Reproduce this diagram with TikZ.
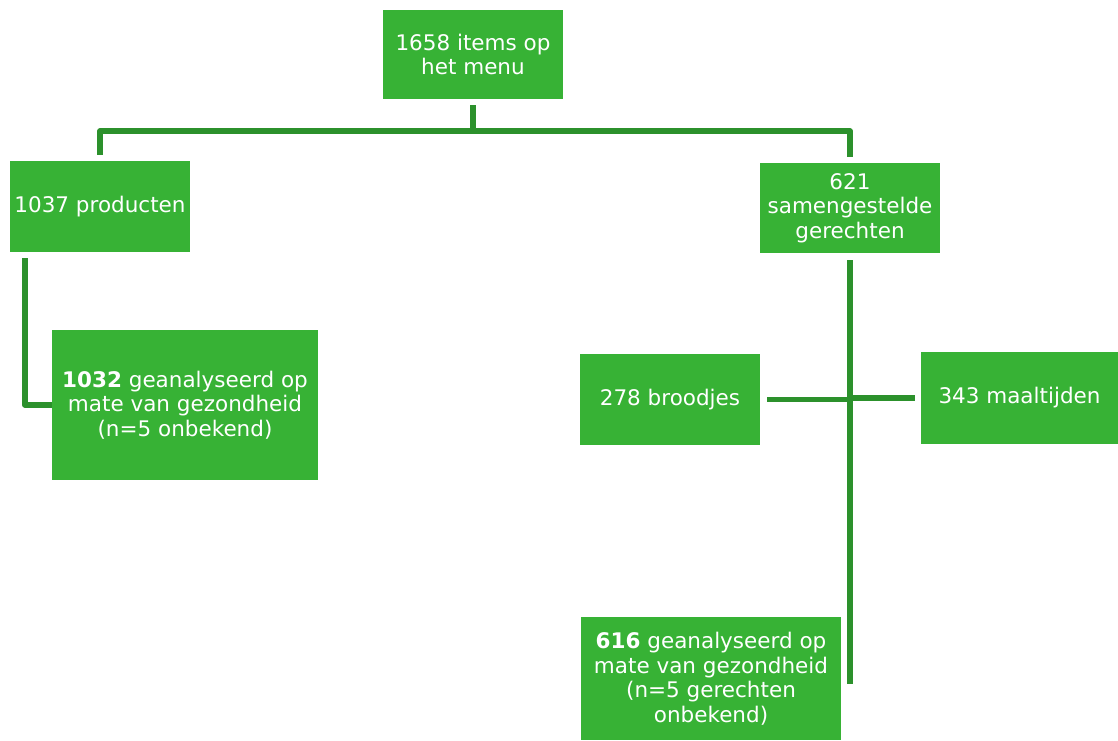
\documentclass[tikz,border=0pt]{standalone}
\usepackage{fontspec}
\setmainfont{DejaVu Sans}
\usepackage{tikz}
\usetikzlibrary{calc}
\usepackage{xcolor}
\definecolor{boxgreen}{RGB}{55,178,53}
\definecolor{linegreen}{RGB}{44,145,44}

\begin{document}
\begin{tikzpicture}[x=1pt,y=-1pt,
		box/.style={fill=boxgreen,text=white,align=center,inner sep=0pt,
			font=\fontsize{21.5}{24.5}\selectfont},
		conn/.style={linegreen,line width=5.5pt,line join=round}]
			
			% Canvas
			\useasboundingbox (0,0) rectangle (1118,740);
			
			% Boxes
			\node[box,minimum width=180pt,minimum height=89pt] (menu) at (473,54.5) {1658 items op\\het menu};
			\node[box,minimum width=180pt,minimum height=91pt] (prod) at (100,206.5) {1037 producten};
			\node[box,minimum width=180pt,minimum height=90pt] (samen) at (850,208) {621\\samengestelde\\gerechten};
			\node[box,minimum width=266pt,minimum height=150pt] (anaprod) at (185,405) {\textbf{1032} geanalyseerd op\\mate van gezondheid\\(n=5 onbekend)};
			\node[box,minimum width=180pt,minimum height=91pt] (brood) at (670,399.5) {278 broodjes};
			\node[box,minimum width=197pt,minimum height=92pt] (maal) at (1019.5,398) {343 maaltijden};
			\node[box,minimum width=260pt,minimum height=123pt] (anasamen) at (711,678.5) {\textbf{616} geanalyseerd op\\mate van gezondheid\\(n=5 gerechten\\onbekend)};
			
			% Split below the menu
			\coordinate (split) at (473,131);
			\draw[conn] ([yshift=-6pt]menu.south) -- (split) -| ([yshift=6pt]prod.north);
			\draw[conn] (split) -| ([yshift=6pt]samen.north);
			
			% Left branch
			\draw[conn] ([xshift=15pt,yshift=-6pt]prod.south west) |- (anaprod.west);
			
			% Right branch
			\coordinate (trunkend) at ($(samen.south |- anasamen.east)+(0,5)$);
			\draw[conn] ([yshift=-7pt]samen.south) -- (trunkend);
			\draw[conn] ([xshift=7pt]brood.east) -- (brood.east -| samen.south);
			\draw[conn] (maal.west -| samen.south) -- ([xshift=-6pt]maal.west);
			
		\end{tikzpicture}
\end{document}
